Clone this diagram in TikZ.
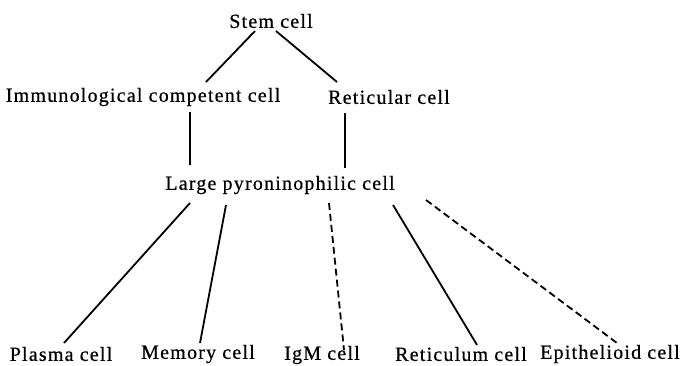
\documentclass[tikz,border=0pt]{standalone}
\usepackage{fontspec}
\setmainfont{Liberation Serif}[LetterSpace=6,FakeBold=0.6]
\usetikzlibrary{calc}
\begin{document}
\begin{tikzpicture}[x=1pt,y=-1pt,
  lbl/.style={inner sep=0pt,font=\fontsize{20}{23}\selectfont},
  conn/.style={line width=1.8pt},
  dconn/.style={line width=1.8pt,dash pattern=on 7pt off 4pt}]
\useasboundingbox (0,0) rectangle (690,365);
\node[lbl] (stem) at (271,21) {Stem cell};
\node[lbl] (immuno) at (143,97) {Immunological competent cell};
\node[lbl] (retic) at (389,97) {Reticular cell};
\node[lbl] (large) at (280,185) {Large pyroninophilic cell};
\node[lbl] (plasma) at (61,354) {Plasma cell};
\node[lbl] (memory) at (198,354) {Memory cell};
\node[lbl] (igm) at (322,355) {IgM cell};
\node[lbl] (reticulum) at (461,354) {Reticulum cell};
\node[lbl] (epith) at (610,354) {Epithelioid cell};
\draw[conn] ($(stem)+(-16,10)$) -- ($(immuno)+(63,-15)$);
\draw[conn] ($(stem)+(5,10)$) -- ($(retic)+(-52,-15)$);
\draw[conn] ($(immuno)+(47,15)$) -- ($(large)+(-90,-20)$);
\draw[conn] ($(retic)+(-44,16)$) -- ($(large)+(65,-17)$);
\draw[conn] ($(large)+(-90,18)$) -- ($(plasma)+(3,-11)$);
\draw[conn] ($(large)+(-54,20)$) -- ($(memory)+(2,-11)$);
\draw[dconn] ($(large)+(49,18)$) -- ($(igm)+(22,-5)$);
\draw[conn] ($(large)+(113,20)$) -- ($(reticulum)+(16,-9)$);
\draw[dconn] ($(large)+(146,15)$) -- ($(epith)+(7,-11)$);
\end{tikzpicture}
\end{document}
